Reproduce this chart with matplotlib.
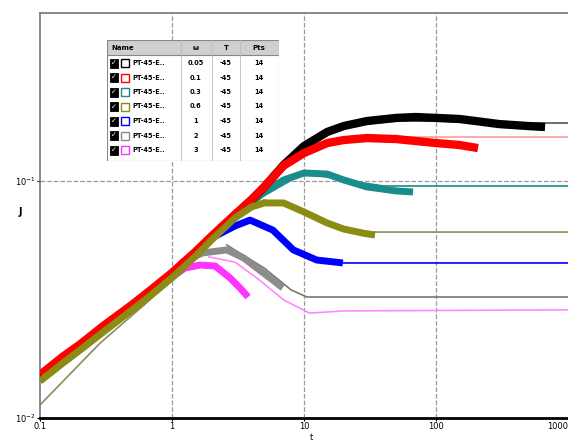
import matplotlib
matplotlib.use("Agg")
import matplotlib.pyplot as plt
from matplotlib.patches import Rectangle

# measured data (thick) and fitted model (thin), t vs compliance
band_t = [0.1, 0.15, 0.2, 0.3, 0.5, 0.7, 1, 1.5, 2, 3, 4, 5, 7, 10, 15, 20]

black_t = band_t + [30, 50, 70, 100, 150, 200, 300, 500, 670]
black_y = [0.0150, 0.0179, 0.0201, 0.0240, 0.0297, 0.0344, 0.0405, 0.0497, 0.0581,
           0.0719, 0.0832, 0.0944, 0.1168, 0.1405, 0.1611, 0.1706,
           0.1791, 0.1846, 0.1862, 0.1846, 0.1827, 0.1791, 0.1739, 0.1706, 0.1690]
black_mt = [20, 50, 100, 300, 1000]
black_my = [0.1706, 0.1791, 0.1791, 0.1757, 0.1757]

red_t = band_t[:13] + [10, 15, 20, 30, 50, 70, 100, 150, 208]
red_y = [0.0152, 0.0182, 0.0204, 0.0244, 0.0301, 0.0349, 0.0410, 0.0502, 0.0586,
         0.0722, 0.0834, 0.0944, 0.1160,
         0.1312, 0.1446, 0.1489, 0.1518, 0.1503, 0.1475, 0.1446, 0.1419, 0.1377]
red_mt = [10, 20, 50, 1000]
red_my = [0.1351, 0.1518, 0.1533, 0.1533]

teal_t = band_t[:10] + [4, 5, 7, 10, 15, 20, 30, 50, 67]
teal_y = [0.0146, 0.0174, 0.0196, 0.0234, 0.0290, 0.0336, 0.0396, 0.0487, 0.0570,
          0.0705, 0.0808, 0.0899, 0.1010, 0.1081, 0.1070, 0.1010, 0.0944, 0.0908, 0.0899]
teal_mt = [4, 10, 20, 40, 67, 1000]
teal_my = [0.0808, 0.1081, 0.1010, 0.0953, 0.0953, 0.0953]

olive_t = band_t[:9] + [3, 4, 5, 7, 10, 15, 20, 30, 34.5]
olive_y = [0.0143, 0.0171, 0.0193, 0.0230, 0.0286, 0.0331, 0.0391, 0.0480, 0.0565,
           0.0698, 0.0777, 0.0808, 0.0808, 0.0740, 0.0665, 0.0627, 0.0598, 0.0592]
olive_mt = [0.1, 0.285, 0.68, 1, 1.5, 2, 3, 5, 10, 20, 34, 1000]
olive_my = [0.01135, 0.0207, 0.0315, 0.0405, 0.0497, 0.0581, 0.0719, 0.0832,
            0.0754, 0.0627, 0.0609, 0.0609]

blue_t = band_t[:8] + [2, 3, 3.9, 5.8, 8.3, 12.5, 19.7]
blue_y = [0.0144, 0.0172, 0.0194, 0.0232, 0.0288, 0.0333, 0.0392, 0.0485,
          0.0575, 0.0646, 0.0684, 0.0621, 0.0512, 0.0464, 0.0451]
blue_mt = [12.5, 19.7, 1000]
blue_my = [0.0464, 0.0451, 0.0451]

gray_t = band_t[:7] + [1.2, 1.7, 2.6, 3.5, 4.6, 5.8, 6.9]
gray_y = [0.0147, 0.0176, 0.0198, 0.0236, 0.0292, 0.0338, 0.0398,
          0.0455, 0.0497, 0.0512, 0.0473, 0.0421, 0.0382, 0.0354]
gray_mt = [2.6, 5, 8, 10.5, 1000]
gray_my = [0.0537, 0.0429, 0.0347, 0.0324, 0.0324]

mag_t = band_t[:6] + [1, 1.25, 1.63, 2.12, 2.75, 3.27, 3.77]
mag_y = [0.0148, 0.0177, 0.0199, 0.0238, 0.0294, 0.0340,
         0.0393, 0.0429, 0.0442, 0.0438, 0.0390, 0.0354, 0.0324]
mag_mt = [1.9, 3, 4.6, 7, 11, 20, 1000]
mag_my = [0.0478, 0.0455, 0.0382, 0.0315, 0.0277, 0.0283, 0.0286]

names = ["PT-45-E..", "PT-45-E..", "PT-45-E..", "PT-45-E..", "PT-45-E..", "PT-45-E..", "PT-45-E.."]
freqs = ["0.05", "0.1", "0.3", "0.6", "1", "2", "3"]
temps = ["-45", "-45", "-45", "-45", "-45", "-45", "-45"]
pts = ["14", "14", "14", "14", "14", "14", "14"]
colors = ["black", "red", "#1a8c8c", "#8c8c14", "blue", "#8c8c8c", "#ff33ff"]
model_colors = ["#555555", "#ff9a9a", "#1a8c8c", "#8c8c5a", "blue", "#777777", "#ff88ff"]

fig = plt.figure(figsize=(5.68, 4.41), dpi=100)
ax = fig.add_axes([40/568, 1-418/441, 528/568, 405/441])
ax.set_xscale("log")
ax.set_yscale("log")

series = [(black_t, black_y, black_mt, black_my),
          (red_t, red_y, red_mt, red_my),
          (teal_t, teal_y, teal_mt, teal_my),
          (olive_t, olive_y, olive_mt, olive_my),
          (blue_t, blue_y, blue_mt, blue_my),
          (gray_t, gray_y, gray_mt, gray_my),
          (mag_t, mag_y, mag_mt, mag_my)]

# grid lines, only inside the frame
for gx in [1, 10, 100]:
    ax.axvline(gx, ls="--", color="#9a9a9a", lw=0.9, zorder=1)
ax.axhline(0.1, ls="--", color="#9a9a9a", lw=0.9, zorder=1)

# models underneath
for i, (t, y, mt, my) in enumerate(series):
    ax.plot(mt, my, color=model_colors[i], lw=1.2, zorder=2)

order = [6, 5, 4, 2, 0, 1, 3]
for i in order:
    t, y, mt, my = series[i]
    ax.plot(t, y, color=colors[i], lw=6 if i < 2 else 5, solid_capstyle="butt",
            solid_joinstyle="round", zorder=3)

ax.set_xlim(0.1, 1000)
ax.set_ylim(0.01, 0.5116)
ax.minorticks_off()
ax.set_xticks([0.1, 1, 10, 100, 1000])
ax.set_xticklabels(["0.1", "1", "10", "100", "1000"])
ax.get_xticklabels()[-1].set_horizontalalignment("right")
ax.set_yticks([0.01, 0.1])
ax.set_yticklabels([r"$10^{-2}$", r"$10^{-1}$"])
ax.tick_params(labelsize=6, length=2, pad=1)
for s in ["left", "top"]:
    ax.spines[s].set_color("#777777")
    ax.spines[s].set_linewidth(1.2)
ax.spines["bottom"].set_linewidth(2)
ax.spines["right"].set_visible(False)
fig.text(20/568, 1-212/441, "J", fontsize=7, weight="bold", ha="center", va="center")
fig.text(311/568, 1-437/441, "t", fontsize=6, ha="center", va="center")

# legend table
tab = fig.add_axes([107/568, 1-161/441, 172/568, 121/441])
tab.set_xlim(0, 172)
tab.set_ylim(121, 0)
tab.axis("off")
tab.add_patch(Rectangle((0, 0), 172, 121, fc="white", ec="#888888", lw=0.8))
tab.add_patch(Rectangle((0, 0), 172, 15, fc="#cfcfcf", ec="#888888", lw=0.8))
for cx in [74, 105, 133]:
    tab.plot([cx, cx], [0, 121], color="#bbbbbb", lw=0.6)
hdr = ["Name", "ω", "T", "Pts"]
for txt, cx, ha in zip(hdr, [4, 89, 119, 152], ["left", "center", "center", "center"]):
    tab.text(cx, 8, txt, fontsize=5, weight="bold", ha=ha, va="center")
for r in range(7):
    cy = 23 + r * 14.5
    tab.add_patch(Rectangle((3, cy - 4.5), 8, 9, fc="black", ec="black", lw=0.6))
    tab.text(7, cy, "✓", fontsize=5, color="white", ha="center", va="center")
    tab.add_patch(Rectangle((14, cy - 4), 8, 8, fc="white", ec=colors[r], lw=1))
    tab.text(25, cy, names[r], fontsize=4.8, weight="bold", ha="left", va="center")
    tab.text(89, cy, freqs[r], fontsize=4.8, weight="bold", ha="center", va="center")
    tab.text(119, cy, temps[r], fontsize=4.8, weight="bold", ha="center", va="center")
    tab.text(152, cy, pts[r], fontsize=4.8, weight="bold", ha="center", va="center")

fig.savefig("out.png", dpi=100)
